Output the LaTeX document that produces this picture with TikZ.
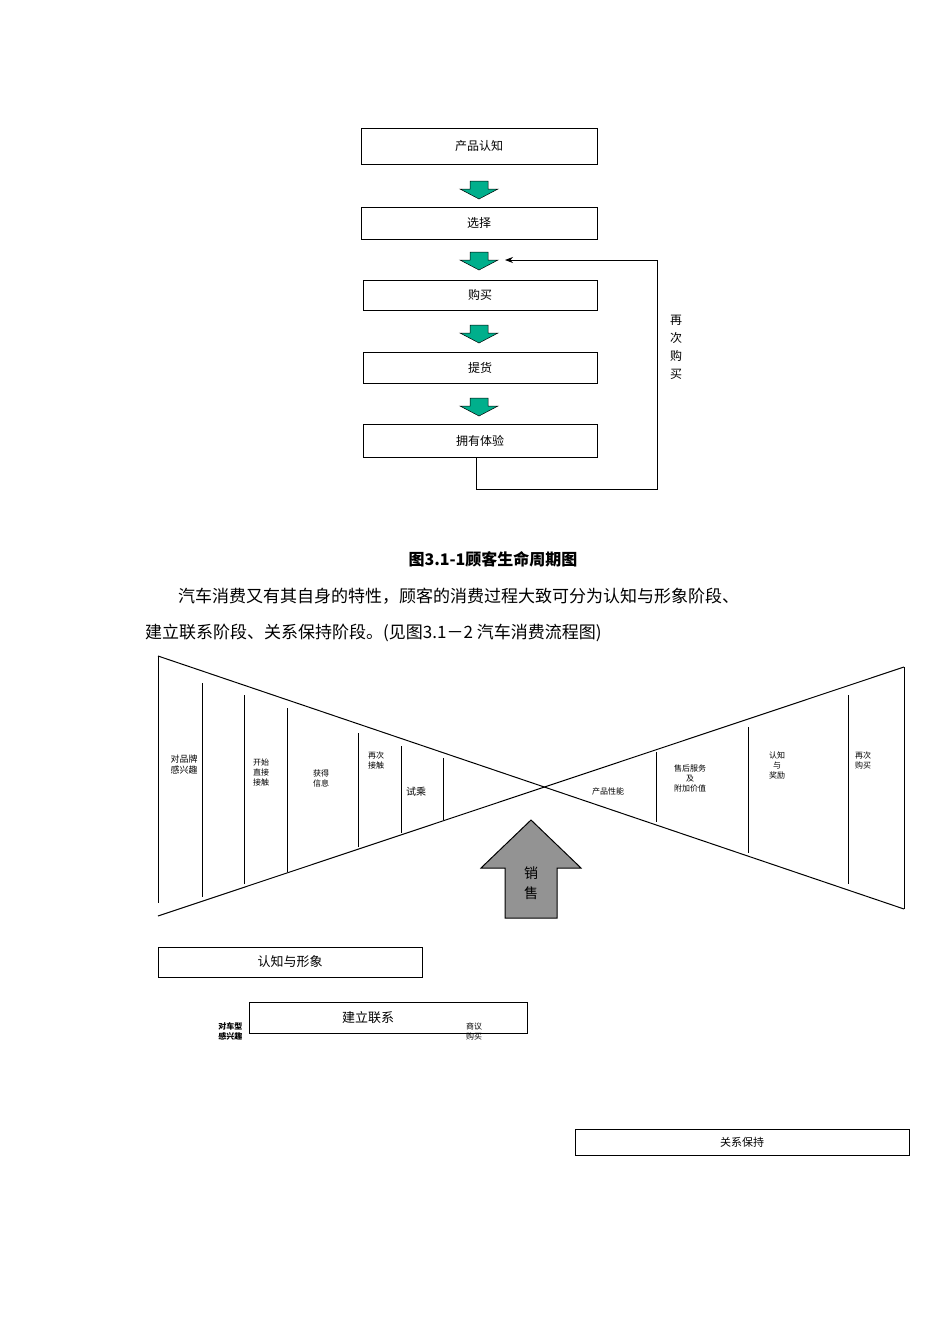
\documentclass[tikz,border=0pt]{standalone}
\usepackage{fontspec}
\usetikzlibrary{arrows.meta}
\setmainfont{Noto Sans CJK SC}
\definecolor{gfill}{RGB}{0,175,140}
\begin{document}
\begin{tikzpicture}[x=1pt,y=-1pt,
  box/.style={draw,line width=1pt,inner sep=0pt},
  garrow/.style={fill=gfill,draw=black,line width=0.5pt},
  lbl/.style={font=\fontsize{8}{10}\selectfont,align=center},
  ln/.style={line width=1pt}]
\useasboundingbox (0,0) rectangle (950,1344);
% flowchart boxes
\tikzset{fb/.style={box,font=\fontsize{12}{14}\selectfont}}
\node[fb,minimum width=236pt,minimum height=36pt] (b1) at (479,146) {产品认知};
\node[fb,minimum width=236pt,minimum height=32pt] (b2) at (479,223) {选择};
\node[fb,minimum width=234pt,minimum height=30pt] (b3) at (480,295) {购买};
\node[fb,minimum width=234pt,minimum height=31pt] (b4) at (480,367.5) {提货};
\node[fb,minimum width=234pt,minimum height=33pt] (b5) at (480,440.5) {拥有体验};
\foreach \y in {181,252,325,398}{
  \draw[garrow] (470,\y) -- (488,\y) -- (488,\y+8) -- (498,\y+8) -- (479,\y+18) -- (460,\y+8) -- (470,\y+8) -- cycle;}
\coordinate (f0) at (476,457);
\coordinate (f1) at (476,489);
\coordinate (f2) at (657,489);
\coordinate (f3) at (657,260);
\coordinate (f4) at (505,260);
\draw[line width=0.8pt,-{Stealth[length=8pt,width=6pt]}] (f0) -- (f1) -- (f2) -- (f3) -- (f4);
\node[font=\fontsize{12}{18}\selectfont,align=center] (rb) at (676,347) {再\\次\\购\\买};
% caption & text
\node[font=\bfseries\fontsize{16}{18}\selectfont] (cap) at (493,559) {图3.1-1顾客生命周期图};
\node[anchor=west,font=\fontsize{17}{19}\selectfont,inner sep=0pt] (p1) at (178,596) {汽车消费又有其自身的特性，顾客的消费过程大致可分为认知与形象阶段、};
\node[anchor=west,font=\fontsize{17}{19}\selectfont,inner sep=0pt] (p2) at (145,633) {建立联系阶段、关系保持阶段。(见图3.1－2 汽车消费流程图)};
% bowtie
\draw[ln] (158,656) -- (904,909);
\draw[ln] (158,916) -- (904,667);
\draw[ln] (158,656) -- (158,903);
\draw[ln] (904,667) -- (904,909);
\foreach \x/\a/\b in {202/683/897,244/695/884,287/708/872,358/733/847,401/746/833,443/758/820,656/752/822,748/727/853,848/695/884}
  \draw[ln] (\x,\a) -- (\x,\b);
\node[lbl,font=\fontsize{9}{11}\selectfont] (t1) at (184,765) {对品牌\\感兴趣};
\node[lbl] (t2) at (261,772) {开始\\直接\\接触};
\node[lbl] (t3) at (321,778) {获得\\信息};
\node[lbl] (t4) at (376,760) {再次\\接触};
\node[lbl,font=\fontsize{10}{11}\selectfont] (t5) at (416,792) {试乘};
\node[lbl] (t6) at (608,791) {产品性能};
\node[lbl] (t7) at (690,778) {售后服务\\及\\附加价值};
\node[lbl] (t8) at (777,765) {认知\\与\\奖励};
\node[lbl] (t9) at (863,760) {再次\\购买};
\draw[fill=gray!85,line width=1pt] (505,918) -- (505,868) -- (481,868) -- (531,820) -- (581,868) -- (557,868) -- (557,918) -- cycle;
\node[font=\fontsize{14}{20}\selectfont,align=center] (sale) at (531,883) {销\\售};
% stage boxes
\node[box,minimum width=264pt,minimum height=30pt,font=\fontsize{13}{15}\selectfont] (s1) at (290,962) {认知与形象};
\node[box,minimum width=278pt,minimum height=31pt,font=\fontsize{13}{15}\selectfont] (s2) at (388,1017.5) {\hspace*{-40pt}建立联系};
\node[lbl,font=\bfseries\fontsize{8}{10}\selectfont,anchor=east] (s2l) at (246,1031) {对车型\\感兴趣};
\node[lbl] (s2r) at (474,1031) {商议\\购买};
\node[box,minimum width=334pt,minimum height=26pt,font=\fontsize{11}{13}\selectfont] (s3) at (742,1142) {关系保持};
\end{tikzpicture}
\end{document}
